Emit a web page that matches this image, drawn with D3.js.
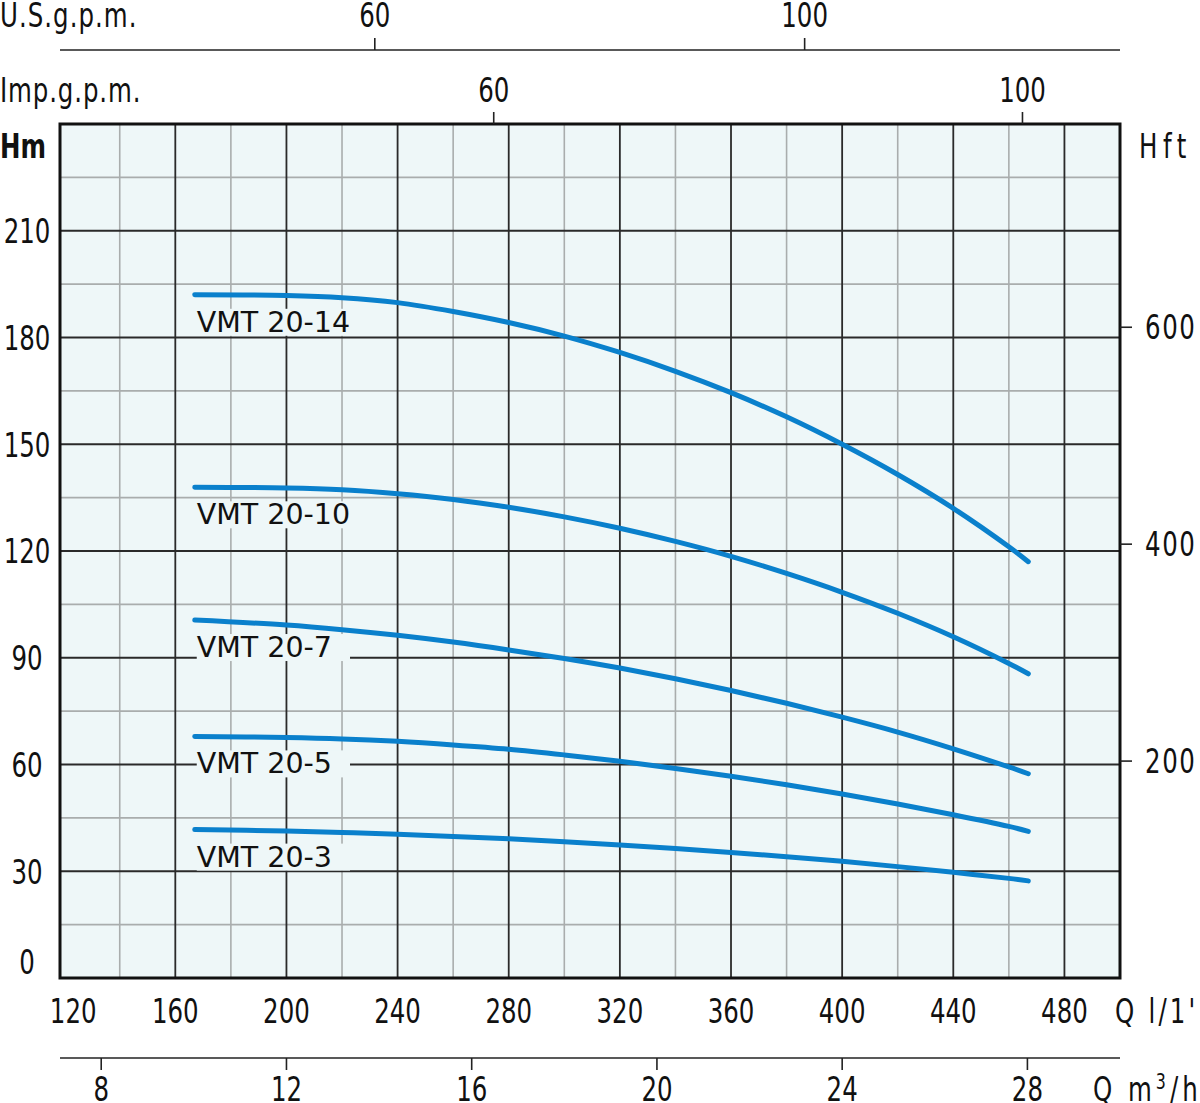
<!DOCTYPE html>
<html>
<head>
<meta charset="utf-8">
<script src="https://cdn.jsdelivr.net/npm/d3@7"></script>
<style>
  body { margin: 0; background: #fff; }
  svg { display: block; }
  .ax text { font-family: "DejaVu Sans Condensed", "DejaVu Sans", sans-serif; font-size: 34px; fill: #111; }
  .lbl { font-family: "DejaVu Sans", sans-serif; font-size: 28.5px; fill: #111; }
</style>
</head>
<body>
<svg width="1200" height="1103"></svg>
<script>
// flow in l/min, head in m
var flowLpm = [167, 200, 220, 240, 260, 280, 300, 320, 340, 360, 380, 400, 420, 440, 460, 467];
var h14 = [192, 191.8, 191.2, 189.8, 187.3, 184.2, 180.4, 175.8, 170.5, 164.5, 157.7, 150, 141.5, 132, 121.2, 117];
var h10 = [137.9, 137.7, 137.2, 136.1, 134.5, 132.3, 129.6, 126.4, 122.7, 118.5, 113.7, 108.4, 102.5, 95.9, 88.4, 85.5];
var h7 = [100.6, 99.2, 97.9, 96.3, 94.4, 92.2, 89.8, 87.1, 84.1, 80.8, 77.2, 73.3, 69.1, 64.4, 59.3, 57.4];
var h5 = [67.9, 67.6, 67.2, 66.5, 65.5, 64.3, 62.7, 60.9, 58.9, 56.7, 54.3, 51.7, 48.9, 45.9, 42.6, 41.2];
var h3 = [41.7, 41.3, 40.9, 40.4, 39.8, 39.1, 38.3, 37.4, 36.4, 35.3, 34.1, 32.8, 31.3, 29.7, 28, 27.3];

var models = ["VMT 20-14", "VMT 20-10", "VMT 20-7", "VMT 20-5", "VMT 20-3"];
var series = [h14, h10, h7, h5, h3];

var lpmTicks = [120, 160, 200, 240, 280, 320, 360, 400, 440, 480];
var m3hTicks = [8, 12, 16, 20, 24, 28];
var hmTicks = [0, 30, 60, 90, 120, 150, 180, 210];
var hftTicks = [200, 400, 600];
var usTicks = [60, 100];
var impTicks = [60, 100];

var svg = d3.select("svg");
var pL = 60, pR = 1120, pT = 124, pB = 978;
var squeeze = 0.8; // the sheet uses a narrow DIN-like face

var x = d3.scaleLinear().domain([118.5, 500]).range([pL, pR]);
var y = d3.scaleLinear().domain([0, 240]).range([pB, pT]);
var yFt = d3.scaleLinear().domain([0, 240 * 3.2808]).range([pB, pT]);
var xM3 = d3.scaleLinear().domain([118.5 / 16.667, 500 / 16.667]).range([pL, pR]);
// the gallon scales on the sheet, lined up with the l/min scale as drawn
var xUs = d3.scaleLinear().domain([60, 100]).range([x(231.8), x(386.5)]);
var xImp = d3.scaleLinear().domain([60, 100]).range([x(274.6), x(464.9)]);

function put(sel, fx, fy) {
    return sel.attr("transform", function (d, i) {
        return "translate(" + fx(d, i) + "," + fy(d, i) + ") scale(" + squeeze + ",1)";
    });
}

// plot background
svg.append("rect")
    .attr("x", pL).attr("y", pT)
    .attr("width", pR - pL).attr("height", pB - pT)
    .attr("fill", "#eef7f8");

var grid = svg.append("g");
var minorX = d3.range(140, 500, 40), majorX = d3.range(160, 500, 40);
var minorY = d3.range(15, 240, 30), majorY = d3.range(30, 240, 30);

grid.selectAll(".vmin").data(minorX).enter().append("line")
    .attr("x1", function (d) { return x(d); }).attr("x2", function (d) { return x(d); })
    .attr("y1", pT).attr("y2", pB)
    .attr("stroke", "#a9adad").attr("stroke-width", 1.6);
grid.selectAll(".hmin").data(minorY).enter().append("line")
    .attr("y1", function (d) { return y(d); }).attr("y2", function (d) { return y(d); })
    .attr("x1", pL).attr("x2", pR)
    .attr("stroke", "#a9adad").attr("stroke-width", 1.6);
grid.selectAll(".vmaj").data(majorX).enter().append("line")
    .attr("x1", function (d) { return x(d); }).attr("x2", function (d) { return x(d); })
    .attr("y1", pT).attr("y2", pB)
    .attr("stroke", "#2a2a2a").attr("stroke-width", 1.8);
grid.selectAll(".hmaj").data(majorY).enter().append("line")
    .attr("y1", function (d) { return y(d); }).attr("y2", function (d) { return y(d); })
    .attr("x1", pL).attr("x2", pR)
    .attr("stroke", "#2a2a2a").attr("stroke-width", 1.8);

// curve labels, with the grid knocked out behind them
var labels = svg.append("g");
series.forEach(function (s, i) {
    var lx = x(flowLpm[0]) + 2, ly = y(s[0]) + 37;
    var t = labels.append("text").attr("class", "lbl")
        .attr("x", lx).attr("y", ly).text(models[i]);
    var bb = t.node().getBBox();
    labels.insert("rect", "text")
        .attr("x", lx).attr("y", ly - 23)
        .attr("width", bb.width + 18).attr("height", 27)
        .attr("fill", "#eef7f8");
});

var line = d3.line()
    .x(function (d) { return x(d[0]); })
    .y(function (d) { return y(d[1]); })
    .curve(d3.curveCatmullRom.alpha(0.5));

svg.append("g").selectAll("path")
    .data(series)
    .enter().append("path")
    .attr("d", function (s) { return line(flowLpm.map(function (f, j) { return [f, s[j]]; })); })
    .attr("fill", "none")
    .attr("stroke", "#0a80cc")
    .attr("stroke-width", 5)
    .attr("stroke-linecap", "round");

// frame
svg.append("rect")
    .attr("x", pL).attr("y", pT)
    .attr("width", pR - pL).attr("height", pB - pT)
    .attr("fill", "none").attr("stroke", "#111").attr("stroke-width", 3);

// axes
var ax = svg.append("g").attr("class", "ax");

put(ax.selectAll(".lpm").data(lpmTicks).enter().append("text"),
    function (d, i) { return x(d) + (i === 0 ? 9 : 0); }, function () { return 1023; })
    .attr("text-anchor", "middle")
    .text(function (d) { return d; });
put(ax.append("text"), function () { return 1115; }, function () { return 1023; })
    .attr("letter-spacing", "4px").text("Q l/1'");

ax.append("line").attr("x1", pL).attr("x2", pR).attr("y1", 1058).attr("y2", 1058)
    .attr("stroke", "#222").attr("stroke-width", 1.6);
ax.selectAll(".m3t").data(m3hTicks).enter().append("line")
    .attr("x1", function (d) { return xM3(d); }).attr("x2", function (d) { return xM3(d); })
    .attr("y1", 1058).attr("y2", 1070)
    .attr("stroke", "#222").attr("stroke-width", 1.6);
put(ax.selectAll(".m3").data(m3hTicks).enter().append("text"),
    function (d) { return xM3(d); }, function () { return 1101; })
    .attr("text-anchor", "middle")
    .text(function (d) { return d; });
put(ax.append("text"), function () { return 1093; }, function () { return 1101; })
    .attr("letter-spacing", "5px")
    .html("Q m<tspan dy='-12' font-size='22'>3</tspan><tspan dy='12'>/h</tspan>");

put(ax.selectAll(".hm").data(hmTicks).enter().append("text"),
    function () { return 27; }, function (d) { return y(d) + (d === 0 ? -16 : 0); })
    .attr("dy", "0.36em")
    .attr("text-anchor", "middle")
    .text(function (d) { return d; });
put(ax.append("text"), function () { return 0; }, function () { return 158; })
    .attr("font-weight", "bold").attr("font-size", "40px").text("Hm");

ax.selectAll(".hftt").data(hftTicks).enter().append("line")
    .attr("x1", pR).attr("x2", pR + 12)
    .attr("y1", function (d) { return yFt(d); }).attr("y2", function (d) { return yFt(d); })
    .attr("stroke", "#222").attr("stroke-width", 1.6);
put(ax.selectAll(".hft").data(hftTicks).enter().append("text"),
    function () { return 1145; }, function (d) { return yFt(d); })
    .attr("dy", "0.36em")
    .attr("letter-spacing", "2px")
    .text(function (d) { return d; });
put(ax.append("text"), function () { return 1139; }, function () { return 158; })
    .attr("font-size", "40px").attr("letter-spacing", "7px").text("Hft");

// U.S. gallons, on its own line above
ax.append("line").attr("x1", pL).attr("x2", pR).attr("y1", 50).attr("y2", 50)
    .attr("stroke", "#222").attr("stroke-width", 1.6);
ax.selectAll(".ust").data(usTicks).enter().append("line")
    .attr("x1", function (d) { return xUs(d); }).attr("x2", function (d) { return xUs(d); })
    .attr("y1", 38).attr("y2", 50)
    .attr("stroke", "#222").attr("stroke-width", 1.6);
put(ax.selectAll(".us").data(usTicks).enter().append("text"),
    function (d) { return xUs(d); }, function () { return 27; })
    .attr("text-anchor", "middle")
    .text(function (d) { return d; });
put(ax.append("text"), function () { return 0; }, function () { return 27; })
    .attr("letter-spacing", "1.3px").text("U.S.g.p.m.");

// Imperial gallons, ticks on the frame top
ax.selectAll(".impt").data(impTicks).enter().append("line")
    .attr("x1", function (d) { return xImp(d); }).attr("x2", function (d) { return xImp(d); })
    .attr("y1", pT - 12).attr("y2", pT)
    .attr("stroke", "#222").attr("stroke-width", 1.6);
put(ax.selectAll(".imp").data(impTicks).enter().append("text"),
    function (d) { return xImp(d); }, function () { return 102; })
    .attr("text-anchor", "middle")
    .text(function (d) { return d; });
put(ax.append("text"), function () { return 0; }, function () { return 102; })
    .attr("letter-spacing", "1.1px").text("Imp.g.p.m.");
</script>
</body>
</html>
